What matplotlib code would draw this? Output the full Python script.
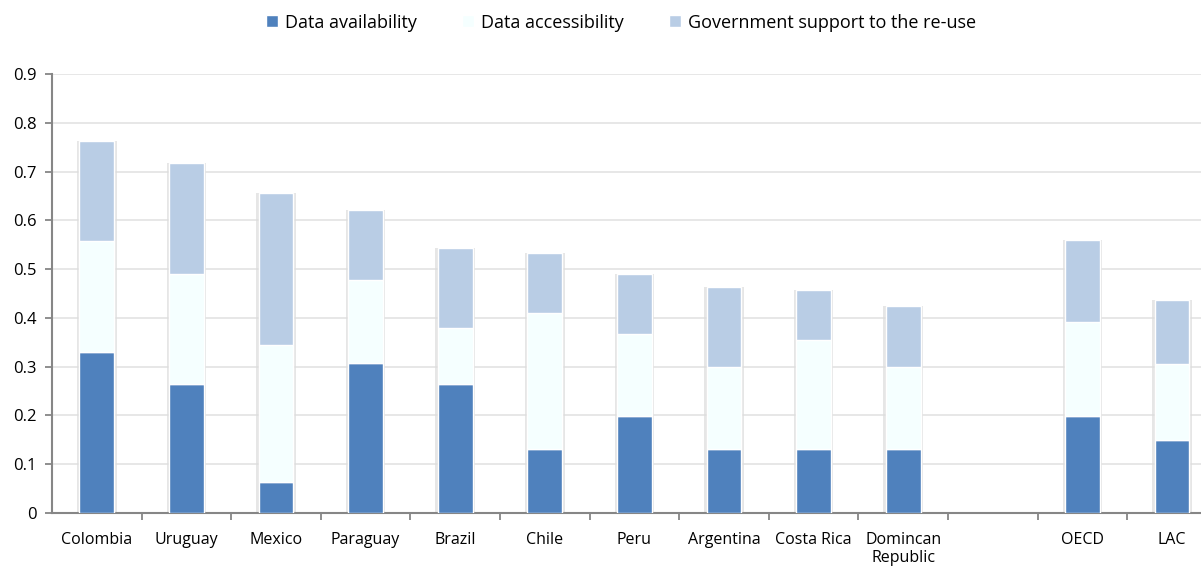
import numpy as np
import matplotlib.pyplot as plt
from matplotlib.ticker import FixedLocator

# ---------------------------------------------------------
# Data
# ---------------------------------------------------------
categories = ["Colombia", "Uruguay", "Mexico", "Paraguay", "Brazil", "Chile",
              "Peru", "Argentina", "Costa Rica", "Domincan\nRepublic", "",
              "OECD", "LAC"]
availability = [0.330, 0.264, 0.064, 0.307, 0.264, 0.131, 0.199, 0.131,
                0.131, 0.131, None, 0.199, 0.150]
accessibility = [0.228, 0.226, 0.280, 0.171, 0.115, 0.279, 0.168, 0.168,
                 0.224, 0.168, None, 0.193, 0.155]
gov_support = [0.205, 0.227, 0.312, 0.143, 0.164, 0.123, 0.123, 0.164,
               0.102, 0.125, None, 0.168, 0.132]
y_ticks = [0, 0.1, 0.2, 0.3, 0.4, 0.5, 0.6, 0.7, 0.8, 0.9]

series_names = ["Data availability", "Data accessibility",
                "Government support to the re-use"]
colors = ["#4F81BD", "#F5FFFF", "#B9CDE5"]

# ---------------------------------------------------------
# Plot
# ---------------------------------------------------------
plt.rcParams["font.family"] = ["Open Sans", "DejaVu Sans"]

fig = plt.figure(figsize=(12.01, 5.67), dpi=100)
ax = fig.add_axes([52 / 1201, 1 - 513 / 567, 1 - 52 / 1201, (513 - 74) / 567])

idx = [i for i, v in enumerate(availability) if v is not None]
a = np.array([availability[i] for i in idx])
b = np.array([accessibility[i] for i in idx])
c = np.array([gov_support[i] for i in idx])
x = np.array(idx, dtype=float)
w = 0.39

# soft shadow behind the bars
ax.bar(x, a + b + c, width=w + 0.05, color="#dcdcdc", alpha=0.7, zorder=2,
       linewidth=0)
ax.bar(x, a, width=w, color=colors[0], edgecolor="white", linewidth=1.0,
       zorder=3, label=series_names[0])
ax.bar(x, b, width=w, bottom=a, color=colors[1], edgecolor="white",
       linewidth=1.0, zorder=3, label=series_names[1])
ax.bar(x, c, width=w, bottom=a + b, color=colors[2], edgecolor="white",
       linewidth=1.0, zorder=3, label=series_names[2])

ax.set_ylim(0, 0.9)
ax.set_xlim(-0.5, (1201 - 52) / 89.6 - 0.5)
ax.set_yticks(y_ticks)
ax.set_yticklabels(["0"] + [f"{v:.1f}" for v in y_ticks[1:]])
ax.grid(axis="y", color="#e3e3e3", linewidth=1.2, zorder=0)

ax.set_xticks(range(len(categories)))
ax.set_xticklabels(categories, fontsize=11.5, linespacing=1.15)
ax.xaxis.set_minor_locator(FixedLocator(np.arange(0.5, len(categories), 1)))
ax.tick_params(axis="x", which="major", length=0, pad=14)
ax.tick_params(axis="x", which="minor", length=5, color="#868686", width=1.3)
ax.tick_params(axis="y", length=5, color="#868686", width=1.3,
               labelsize=12, pad=6)

for s in ["top", "right"]:
    ax.spines[s].set_visible(False)
for s in ["left", "bottom"]:
    ax.spines[s].set_color("#868686")
    ax.spines[s].set_linewidth(1.5)

fig.legend(loc="center", bbox_to_anchor=(0.517, 0.96), ncol=3, frameon=False,
           fontsize=13, handlelength=0.65, handleheight=0.65, columnspacing=2.5,
           handletextpad=0.4)

fig.savefig("out.png", dpi=100)
